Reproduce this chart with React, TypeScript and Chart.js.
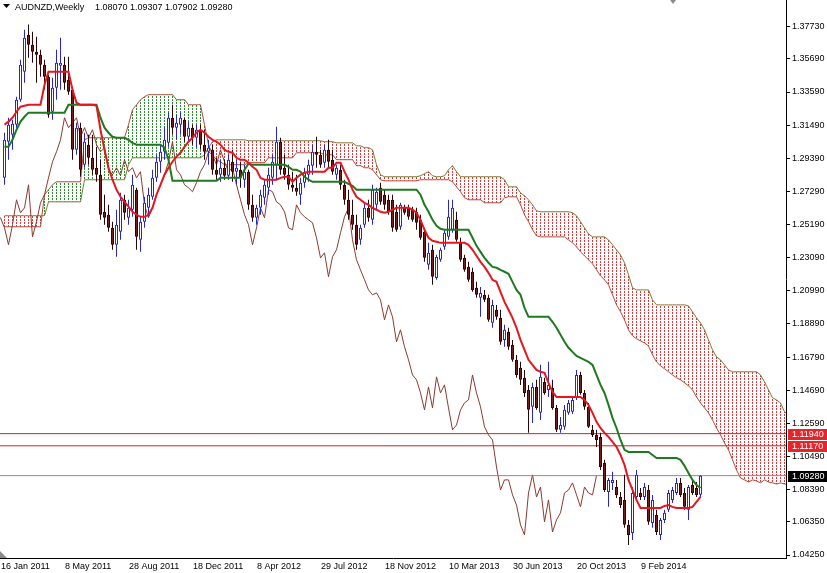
import React, { useEffect, useRef } from 'react';
import { Chart, registerables } from 'chart.js';

Chart.register(...registerables);

// ---------- labels / ticks ----------
const symbolName = 'AUDNZD,Weekly';
const xTickWeeks = [-0.875, 15.125, 31.125, 47.125, 63.125, 79.125, 95.125, 111.125, 127.125, 143.125, 159.125];
const xTickLabels = ['16 Jan 2011', '8 May 2011', '28 Aug 2011', '18 Dec 2011', '8 Apr 2012', '29 Jul 2012', '18 Nov 2012', '10 Mar 2013', '30 Jun 2013', '20 Oct 2013', '9 Feb 2014'];
const yTickValues = [1.3773, 1.3569, 1.3359, 1.3149, 1.2939, 1.2729, 1.2519, 1.2309, 1.2099, 1.1889, 1.1679, 1.1469, 1.1259, 1.1049, 1.0839, 1.0635, 1.0425];
const levelLines = [1.1194, 1.1117];
const currentPrice = 1.0928;
const chikouShift = 26;
const shiftMarkerWeek = 167;

// ---------- weekly candles ----------
const open = [
  1.2815, 1.3044, 1.3088, 1.3152, 1.3310, 1.3488, 1.3722, 1.3659, 1.3614, 1.3595,
  1.3532, 1.3456, 1.3234, 1.3386, 1.3526, 1.3532, 1.3437, 1.3373, 1.2993, 1.3133,
  1.2898, 1.3025, 1.2942, 1.2879, 1.2835, 1.2600, 1.2581, 1.2498, 1.2391, 1.2473,
  1.2676, 1.2562, 1.2613, 1.2740, 1.2422, 1.2537, 1.2625, 1.2695, 1.2815, 1.2917,
  1.2980, 1.3037, 1.3196, 1.3133, 1.3152, 1.3183, 1.3075, 1.3133, 1.3069, 1.3120,
  1.3025, 1.2980, 1.2993, 1.2866, 1.2835, 1.2879, 1.2828, 1.2917, 1.2854, 1.2866,
  1.2803, 1.2854, 1.2644, 1.2562, 1.2625, 1.2689, 1.2752, 1.2815, 1.2898, 1.3044,
  1.2879, 1.2835, 1.2771, 1.2752, 1.2708, 1.2784, 1.2835, 1.2892, 1.2980, 1.2961,
  1.2911, 1.2993, 1.2930, 1.2835, 1.2866, 1.2771, 1.2676, 1.2581, 1.2518, 1.2422,
  1.2518, 1.2625, 1.2549, 1.2644, 1.2752, 1.2708, 1.2676, 1.2676, 1.2600, 1.2505,
  1.2632, 1.2625, 1.2613, 1.2600, 1.2549, 1.2473, 1.2264, 1.2359, 1.2181, 1.2296,
  1.2378, 1.2441, 1.2486, 1.2549, 1.2403, 1.2308, 1.2251, 1.2220, 1.2118, 1.2055,
  1.2074, 1.2055, 1.1896, 1.1979, 1.1928, 1.1788, 1.1839, 1.1757, 1.1662, 1.1611,
  1.1548, 1.1471, 1.1364, 1.1490, 1.1326, 1.1522, 1.1471, 1.1484, 1.1357, 1.1218,
  1.1237, 1.1326, 1.1332, 1.1427, 1.1566, 1.1452, 1.1364, 1.1218, 1.1186, 1.1173,
  1.1009, 1.0825, 1.0882, 1.0856, 1.0793, 1.0774, 1.0616, 1.0565, 1.0793, 1.0818,
  1.0793, 1.0837, 1.0628, 1.0679, 1.0552, 1.0647, 1.0711, 1.0774, 1.0818, 1.0882,
  1.0818, 1.0711, 1.0869, 1.0850, 1.0807,
];
const high = [
  1.3101, 1.3196, 1.3183, 1.3329, 1.3564, 1.3754, 1.3786, 1.3741, 1.3709, 1.3627,
  1.3564, 1.3469, 1.3449, 1.3627, 1.3703, 1.3583, 1.3583, 1.3392, 1.3164, 1.3164,
  1.3101, 1.3088, 1.3088, 1.3012, 1.2930, 1.2708, 1.2644, 1.2537, 1.2613, 1.2720,
  1.2708, 1.2676, 1.2835, 1.2752, 1.2568, 1.2695, 1.2752, 1.2866, 1.2961, 1.3025,
  1.3139, 1.3228, 1.3278, 1.3215, 1.3234, 1.3196, 1.3171, 1.3152, 1.3152, 1.3152,
  1.3120, 1.3056, 1.3025, 1.2942, 1.2930, 1.2930, 1.2961, 1.2993, 1.2930, 1.2917,
  1.2898, 1.2866, 1.2708, 1.2644, 1.2740, 1.2803, 1.2879, 1.2961, 1.3139, 1.3069,
  1.2961, 1.2898, 1.2854, 1.2835, 1.2815, 1.2879, 1.2930, 1.3025, 1.3075, 1.2993,
  1.3025, 1.3056, 1.2993, 1.2898, 1.2898, 1.2803, 1.2740, 1.2676, 1.2581, 1.2518,
  1.2657, 1.2676, 1.2771, 1.2752, 1.2784, 1.2740, 1.2708, 1.2708, 1.2644, 1.2657,
  1.2644, 1.2644, 1.2632, 1.2625, 1.2581, 1.2498, 1.2403, 1.2391, 1.2327, 1.2372,
  1.2486, 1.2676, 1.2676, 1.2600, 1.2435, 1.2327, 1.2283, 1.2245, 1.2156, 1.2124,
  1.2105, 1.2074, 1.2042, 1.2010, 1.1979, 1.1884, 1.1865, 1.1788, 1.1693, 1.1649,
  1.1598, 1.1503, 1.1516, 1.1535, 1.1630, 1.1548, 1.1649, 1.1535, 1.1376, 1.1300,
  1.1376, 1.1408, 1.1421, 1.1598, 1.1586, 1.1471, 1.1389, 1.1249, 1.1218, 1.1199,
  1.1028, 1.0913, 1.0952, 1.0901, 1.0825, 1.0933, 1.0647, 1.0856, 1.0964, 1.0850,
  1.0882, 1.0869, 1.0806, 1.0711, 1.0660, 1.0711, 1.0837, 1.0856, 1.0913, 1.0913,
  1.0850, 1.0869, 1.0901, 1.0888, 1.09307,
];
const low = [
  1.2771, 1.2930, 1.2993, 1.3133, 1.3297, 1.3418, 1.3576, 1.3545, 1.3418, 1.3456,
  1.3373, 1.3196, 1.3183, 1.3310, 1.3373, 1.3373, 1.3342, 1.2930, 1.2961, 1.2822,
  1.2879, 1.2898, 1.2835, 1.2790, 1.2549, 1.2518, 1.2473, 1.2359, 1.2315, 1.2422,
  1.2549, 1.2518, 1.2568, 1.2359, 1.2346, 1.2498, 1.2568, 1.2676, 1.2790, 1.2847,
  1.2930, 1.3012, 1.3088, 1.3056, 1.3088, 1.3044, 1.3044, 1.3025, 1.3006, 1.2993,
  1.2930, 1.2898, 1.2835, 1.2803, 1.2790, 1.2803, 1.2803, 1.2790, 1.2771, 1.2752,
  1.2752, 1.2613, 1.2537, 1.2518, 1.2581, 1.2644, 1.2708, 1.2771, 1.2803, 1.2835,
  1.2803, 1.2740, 1.2727, 1.2701, 1.2644, 1.2752, 1.2790, 1.2835, 1.2879, 1.2879,
  1.2879, 1.2879, 1.2835, 1.2803, 1.2740, 1.2644, 1.2549, 1.2486, 1.2359, 1.2391,
  1.2498, 1.2537, 1.2518, 1.2613, 1.2644, 1.2613, 1.2581, 1.2473, 1.2473, 1.2486,
  1.2581, 1.2549, 1.2537, 1.2486, 1.2422, 1.2283, 1.2232, 1.2137, 1.2169, 1.2283,
  1.2359, 1.2422, 1.2467, 1.2410, 1.2283, 1.2220, 1.2156, 1.2093, 1.2055, 1.1934,
  1.2029, 1.1903, 1.1865, 1.1915, 1.1757, 1.1744, 1.1725, 1.1649, 1.1548, 1.1503,
  1.1427, 1.1199, 1.1262, 1.1345, 1.1281, 1.1440, 1.1427, 1.1345, 1.1205, 1.1199,
  1.1218, 1.1313, 1.1319, 1.1408, 1.1440, 1.1345, 1.1230, 1.1173, 1.1110, 1.0964,
  1.0825, 1.0730, 1.0837, 1.0787, 1.0723, 1.0597, 1.0489, 1.0520, 1.0774, 1.0774,
  1.0774, 1.0616, 1.0597, 1.0552, 1.0520, 1.0628, 1.0698, 1.0755, 1.0806, 1.0793,
  1.0711, 1.0647, 1.0806, 1.0793, 1.07902,
];
const close = [
  1.3056, 1.3152, 1.3158, 1.3310, 1.3532, 1.3703, 1.3659, 1.3614, 1.3595, 1.3532,
  1.3456, 1.3215, 1.3386, 1.3545, 1.3545, 1.3418, 1.3361, 1.2993, 1.3133, 1.2866,
  1.3044, 1.2942, 1.2866, 1.2835, 1.2581, 1.2562, 1.2498, 1.2391, 1.2518, 1.2676,
  1.2594, 1.2625, 1.2771, 1.2441, 1.2537, 1.2657, 1.2708, 1.2815, 1.2917, 1.2980,
  1.3056, 1.3196, 1.3133, 1.3164, 1.3196, 1.3075, 1.3133, 1.3069, 1.3120, 1.3025,
  1.2980, 1.3006, 1.2866, 1.2835, 1.2879, 1.2828, 1.2930, 1.2854, 1.2879, 1.2815,
  1.2854, 1.2644, 1.2562, 1.2625, 1.2708, 1.2771, 1.2835, 1.2917, 1.3044, 1.2866,
  1.2835, 1.2771, 1.2752, 1.2727, 1.2784, 1.2854, 1.2898, 1.2980, 1.2961, 1.2898,
  1.2993, 1.2917, 1.2854, 1.2879, 1.2771, 1.2676, 1.2581, 1.2518, 1.2391, 1.2498,
  1.2625, 1.2562, 1.2740, 1.2727, 1.2663, 1.2644, 1.2600, 1.2498, 1.2486, 1.2644,
  1.2594, 1.2568, 1.2549, 1.2530, 1.2435, 1.2308, 1.2340, 1.2188, 1.2315, 1.2359,
  1.2467, 1.2568, 1.2625, 1.2422, 1.2296, 1.2232, 1.2169, 1.2105, 1.2074, 1.2086,
  1.2042, 1.1915, 1.2010, 1.1934, 1.1776, 1.1852, 1.1744, 1.1662, 1.1566, 1.1535,
  1.1452, 1.1345, 1.1490, 1.1357, 1.1554, 1.1452, 1.1503, 1.1357, 1.1218, 1.1249,
  1.1345, 1.1389, 1.1408, 1.1566, 1.1452, 1.1364, 1.1237, 1.1186, 1.1154, 1.0983,
  1.0837, 1.0901, 1.0901, 1.0806, 1.0742, 1.0616, 1.0552, 1.0818, 1.0933, 1.0793,
  1.0856, 1.0635, 1.0774, 1.0571, 1.0647, 1.0692, 1.0818, 1.0837, 1.0882, 1.0806,
  1.0730, 1.0856, 1.0818, 1.0806, 1.0928,
];

// ---------- Ichimoku lines ----------
const tenkan = [
  1.3152, 1.3171, 1.3196, 1.3234, 1.3266, 1.3272, 1.3278, 1.3278, 1.3278, 1.3278,
  1.3405, 1.3488, 1.3488, 1.3488, 1.3488, 1.3488, 1.3488, 1.3373, 1.3291, 1.3278,
  1.3278, 1.3278, 1.3278, 1.3272, 1.3120, 1.2993, 1.2879, 1.2803, 1.2740, 1.2695,
  1.2663, 1.2632, 1.2600, 1.2581, 1.2568, 1.2568, 1.2581, 1.2625, 1.2708, 1.2771,
  1.2835, 1.2879, 1.2917, 1.2949, 1.2974, 1.3012, 1.3044, 1.3069, 1.3101, 1.3120,
  1.3101, 1.3075, 1.3056, 1.3044, 1.3025, 1.2993, 1.2980, 1.2974, 1.2942, 1.2930,
  1.2930, 1.2911, 1.2885, 1.2866, 1.2815, 1.2803, 1.2803, 1.2803, 1.2803, 1.2815,
  1.2822, 1.2822, 1.2790, 1.2815, 1.2835, 1.2847, 1.2854, 1.2854, 1.2854, 1.2854,
  1.2854, 1.2879, 1.2879, 1.2911, 1.2911, 1.2854, 1.2803, 1.2740, 1.2695, 1.2676,
  1.2657, 1.2644, 1.2625, 1.2613, 1.2600, 1.2594, 1.2600, 1.2613, 1.2625, 1.2625,
  1.2625, 1.2625, 1.2613, 1.2594, 1.2549, 1.2486, 1.2435, 1.2416, 1.2410, 1.2403,
  1.2403, 1.2403, 1.2403, 1.2403, 1.2403, 1.2403, 1.2391, 1.2359, 1.2321, 1.2283,
  1.2251, 1.2213, 1.2169, 1.2156, 1.2093, 1.2029, 1.1979, 1.1928, 1.1865, 1.1788,
  1.1725, 1.1662, 1.1630, 1.1598, 1.1586, 1.1579, 1.1516, 1.1459, 1.1427, 1.1427,
  1.1427, 1.1427, 1.1427, 1.1427, 1.1427, 1.1408, 1.1376, 1.1326, 1.1269, 1.1230,
  1.1199, 1.1173, 1.1142, 1.1110, 1.1059, 1.0996, 1.0901, 1.0837, 1.0774, 1.0723,
  1.0723, 1.0723, 1.0723, 1.0723, 1.0723, 1.0736, 1.0742, 1.0730, 1.0723, 1.0723,
  1.0723, 1.0723, 1.0730, 1.0761, 1.0793,
];
const kijun = [
  1.3012, 1.3012, 1.3056, 1.3120, 1.3171, 1.3202, 1.3228, 1.3228, 1.3228, 1.3228,
  1.3228, 1.3228, 1.3228, 1.3228, 1.3228, 1.3228, 1.3278, 1.3278, 1.3278, 1.3278,
  1.3278, 1.3278, 1.3278, 1.3278, 1.3196, 1.3133, 1.3101, 1.3075, 1.3069, 1.3069,
  1.3069, 1.3056, 1.3037, 1.3025, 1.3025, 1.3025, 1.3025, 1.3025, 1.3025, 1.3025,
  1.3006, 1.2930, 1.2796, 1.2796, 1.2796, 1.2796, 1.2796, 1.2796, 1.2796, 1.2796,
  1.2796, 1.2796, 1.2796, 1.2796, 1.2815, 1.2815, 1.2815, 1.2815, 1.2815, 1.2815,
  1.2866, 1.2904, 1.2898, 1.2898, 1.2898, 1.2898, 1.2898, 1.2898, 1.2898, 1.2898,
  1.2898, 1.2885, 1.2866, 1.2866, 1.2854, 1.2822, 1.2803, 1.2790, 1.2790, 1.2790,
  1.2790, 1.2790, 1.2790, 1.2790, 1.2790, 1.2790, 1.2777, 1.2765, 1.2740, 1.2740,
  1.2740, 1.2740, 1.2740, 1.2740, 1.2740, 1.2740, 1.2740, 1.2740, 1.2740, 1.2740,
  1.2740, 1.2740, 1.2740, 1.2740, 1.2708, 1.2644, 1.2600, 1.2549, 1.2511, 1.2492,
  1.2486, 1.2486, 1.2486, 1.2486, 1.2486, 1.2486, 1.2486, 1.2435, 1.2384, 1.2346,
  1.2308, 1.2277, 1.2251, 1.2245, 1.2232, 1.2220, 1.2207, 1.2156, 1.2105, 1.2074,
  1.1991, 1.1934, 1.1934, 1.1934, 1.1934, 1.1934, 1.1934, 1.1903, 1.1865, 1.1820,
  1.1776, 1.1738, 1.1712, 1.1687, 1.1674, 1.1662, 1.1649, 1.1630, 1.1566, 1.1503,
  1.1452, 1.1376, 1.1294, 1.1230, 1.1154, 1.1091, 1.1078, 1.1078, 1.1078, 1.1078,
  1.1078, 1.1078, 1.1059, 1.1040, 1.1040, 1.1040, 1.1040, 1.1040, 1.1040, 1.1028,
  1.0990, 1.0945, 1.0901, 1.0869, 1.0850,
];
// Senkou spans as plotted (already shifted 26 weeks forward)
const spanA = [
  1.2505, 1.2505, 1.2505, 1.2505, 1.2505, 1.2505, 1.2505, 1.2505, 1.2505, 1.2505,
  1.2708, 1.2740, 1.2771, 1.2790, 1.2790, 1.2790, 1.2790, 1.2790, 1.2790, 1.2790,
  1.3056, 1.3069, 1.3069, 1.3069, 1.3069, 1.3069, 1.3069, 1.3069, 1.3069, 1.3069,
  1.3069, 1.3152, 1.3247, 1.3278, 1.3310, 1.3329, 1.3342, 1.3342, 1.3342, 1.3342,
  1.3342, 1.3342, 1.3342, 1.3310, 1.3310, 1.3310, 1.3278, 1.3278, 1.3278, 1.3278,
  1.3152, 1.3025, 1.2961, 1.2930, 1.2917, 1.2898, 1.2898, 1.2898, 1.2898, 1.2898,
  1.2898, 1.2911, 1.2911, 1.2911, 1.2911, 1.2911, 1.2942, 1.2942, 1.2942, 1.2942,
  1.2942, 1.2942, 1.2942, 1.2974, 1.2974, 1.2974, 1.2974, 1.2974, 1.2974, 1.2974,
  1.2961, 1.2961, 1.2961, 1.2930, 1.2930, 1.2930, 1.2930, 1.2930, 1.2892, 1.2892,
  1.2879, 1.2879, 1.2866, 1.2835, 1.2803, 1.2796, 1.2796, 1.2796, 1.2796, 1.2796,
  1.2796, 1.2796, 1.2796, 1.2796, 1.2803, 1.2803, 1.2803, 1.2803, 1.2803, 1.2803,
  1.2803, 1.2803, 1.2790, 1.2758, 1.2727, 1.2689, 1.2676, 1.2676, 1.2676, 1.2676,
  1.2657, 1.2657, 1.2657, 1.2657, 1.2657, 1.2689, 1.2695, 1.2695, 1.2695, 1.2644,
  1.2581, 1.2537, 1.2486, 1.2448, 1.2441, 1.2441, 1.2441, 1.2441, 1.2441, 1.2441,
  1.2441, 1.2422, 1.2403, 1.2378, 1.2346, 1.2321, 1.2296, 1.2270, 1.2232, 1.2194,
  1.2169, 1.2137, 1.2074, 1.2010, 1.1966, 1.1915, 1.1852, 1.1814, 1.1795, 1.1782,
  1.1769, 1.1750, 1.1693, 1.1649, 1.1624, 1.1605, 1.1586, 1.1566, 1.1548, 1.1535,
  1.1516, 1.1497, 1.1471, 1.1427, 1.1389, 1.1357, 1.1326, 1.1281, 1.1230, 1.1186,
  1.1135, 1.1091, 1.1028, 1.0964, 1.0913, 1.0901, 1.0888, 1.0901, 1.0894, 1.0882,
  1.0901, 1.0888, 1.0882, 1.0875, 1.0882, 1.0875, 1.0869,
];
const spanB = [
  1.2575, 1.2575, 1.2575, 1.2575, 1.2575, 1.2575, 1.2575, 1.2575, 1.2575, 1.2575,
  1.2575, 1.2663, 1.2663, 1.2663, 1.2663, 1.2663, 1.2663, 1.2663, 1.2663, 1.2663,
  1.2803, 1.2803, 1.2803, 1.2803, 1.2803, 1.2803, 1.2803, 1.2803, 1.2803, 1.2803,
  1.2803, 1.2898, 1.2942, 1.2942, 1.2942, 1.2942, 1.2942, 1.2942, 1.2942, 1.2942,
  1.2942, 1.2942, 1.2942, 1.2942, 1.2942, 1.2942, 1.2942, 1.2942, 1.2942, 1.2942,
  1.2961, 1.3006, 1.3044, 1.3056, 1.3056, 1.3056, 1.3056, 1.3056, 1.3056, 1.3056,
  1.3056, 1.3050, 1.3050, 1.3050, 1.3050, 1.3050, 1.3050, 1.3050, 1.3050, 1.3050,
  1.3050, 1.3050, 1.3050, 1.3050, 1.3050, 1.3050, 1.3050, 1.3050, 1.3050, 1.3050,
  1.3044, 1.3044, 1.3044, 1.3037, 1.3037, 1.3037, 1.3037, 1.3037, 1.3018, 1.3018,
  1.3006, 1.3006, 1.2993, 1.2898, 1.2835, 1.2822, 1.2822, 1.2822, 1.2822, 1.2822,
  1.2822, 1.2822, 1.2822, 1.2822, 1.2828, 1.2841, 1.2854, 1.2828, 1.2822, 1.2822,
  1.2828, 1.2866, 1.2892, 1.2854, 1.2822, 1.2822, 1.2822, 1.2822, 1.2822, 1.2822,
  1.2822, 1.2822, 1.2822, 1.2822, 1.2822, 1.2803, 1.2758, 1.2758, 1.2758, 1.2720,
  1.2701, 1.2676, 1.2644, 1.2606, 1.2600, 1.2600, 1.2600, 1.2600, 1.2600, 1.2600,
  1.2600, 1.2600, 1.2594, 1.2575, 1.2537, 1.2498, 1.2460, 1.2441, 1.2441, 1.2441,
  1.2441, 1.2422, 1.2391, 1.2359, 1.2327, 1.2277, 1.2201, 1.2118, 1.2105, 1.2105,
  1.2105, 1.2105, 1.2042, 1.2010, 1.2010, 1.2010, 1.2010, 1.2010, 1.2010, 1.2010,
  1.2010, 1.2004, 1.1966, 1.1928, 1.1896, 1.1852, 1.1788, 1.1725, 1.1681, 1.1662,
  1.1630, 1.1598, 1.1586, 1.1586, 1.1586, 1.1586, 1.1586, 1.1586, 1.1586, 1.1566,
  1.1522, 1.1471, 1.1421, 1.1408, 1.1389, 1.1332, 1.1313,
];

// ---------- layout / style constants ----------
const W = 827;
const H = 573;
const X_MIN = -1.125;
const X_MAX = 195.375;
const Y_MIN = 1.0406;
const Y_MAX = 1.3942;
const FONT = '"Liberation Sans", Arial, Helvetica, sans-serif';
const BULL = '#2626cc';
const BEAR_BODY = '#731f1f';
const BEAR_EDGE = '#2a0707';

const overlayPlugin = {
  id: 'mt4Overlay',
  afterDraw(chart: any) {
    const ctx = chart.ctx;
    const ys = chart.scales.y;
    const xs = chart.scales.x;
    ctx.save();
    ctx.font = `9px ${FONT}`;
    // price tags on the axis
    const tags = [
      ...levelLines.map((v) => ({ v, bg: '#e3262b' })),
      { v: currentPrice, bg: '#000000' },
    ];
    tags.forEach((t) => {
      const py = Math.round(ys.getPixelForValue(t.v));
      ctx.fillStyle = t.bg;
      ctx.fillRect(788, py - 5, W - 788, 11);
      ctx.fillStyle = '#ffffff';
      ctx.textAlign = 'left';
      ctx.textBaseline = 'middle';
      ctx.fillText(t.v.toFixed(5), 792, py + 0.5);
    });
    // title
    ctx.fillStyle = '#000000';
    ctx.beginPath();
    ctx.moveTo(3, 4);
    ctx.lineTo(10, 4);
    ctx.lineTo(6.5, 8);
    ctx.closePath();
    ctx.fill();
    ctx.textAlign = 'left';
    ctx.textBaseline = 'alphabetic';
    const last = close.length - 1;
    ctx.fillText(symbolName, 15, 10);
    const ohlc = [open[last], high[last], low[last], close[last]];
    ohlc.forEach((v, k) => ctx.fillText(v.toFixed(5), 95 + 35 * k, 10));
    // MT4 markers (corner + chart-shift)
    ctx.fillStyle = '#8c8c8c';
    ctx.beginPath();
    ctx.moveTo(0, 551);
    ctx.lineTo(0, 558);
    ctx.lineTo(7, 558);
    ctx.closePath();
    ctx.fill();
    const sx = Math.round(xs.getPixelForValue(shiftMarkerWeek));
    ctx.beginPath();
    ctx.moveTo(sx - 3, 0);
    ctx.lineTo(sx + 3, 0);
    ctx.lineTo(sx, 4);
    ctx.closePath();
    ctx.fill();
    ctx.restore();
  },
};

export default function App() {
  const ref = useRef<HTMLCanvasElement>(null);

  useEffect(() => {
    const canvas = ref.current;
    if (!canvas) return;
    const c2d = canvas.getContext('2d');
    const makeDots = (color: string) => {
      const pc = document.createElement('canvas');
      pc.width = 1;
      pc.height = 3;
      const g = pc.getContext('2d')!;
      g.fillStyle = color;
      g.fillRect(0, 0, 1, 2);
      return c2d!.createPattern(pc, 'repeat');
    };
    const greenDots = makeDots('#2f8a2f');
    const redDots = makeDots('#d23c3c');

    const idx = close.map((_, i) => i);
    const cIdx = spanA.map((_, j) => j);
    const bull = (i: number) => close[i] >= open[i];

    const datasets: any[] = [
      {
        type: 'bar',
        label: 'Kumo',
        data: cIdx.map((j) => ({ x: j, y: [spanA[j], spanB[j]] })),
        backgroundColor: (c: any) => (spanA[c.dataIndex] >= spanB[c.dataIndex] ? greenDots : redDots),
        borderWidth: 0,
        barThickness: 1,
        grouped: false,
        inflateAmount: 0,
        order: 20,
      },
      {
        type: 'line',
        label: 'Senkou Span A',
        data: cIdx.map((j) => ({ x: j, y: spanA[j] })),
        borderColor: '#b04a3a',
        borderWidth: 1,
        pointRadius: 0,
        order: 19,
      },
      {
        type: 'line',
        label: 'Senkou Span B',
        data: cIdx.map((j) => ({ x: j, y: spanB[j] })),
        borderColor: '#7a7a34',
        borderWidth: 1,
        pointRadius: 0,
        order: 19,
      },
      {
        type: 'line',
        label: 'Chikou Span',
        data: idx.map((i) => ({ x: i - chikouShift, y: close[i] })),
        borderColor: '#8b3a2e',
        borderWidth: 1,
        pointRadius: 0,
        order: 18,
      },
      ...levelLines.map((v) => ({
        type: 'line',
        label: 'level ' + v,
        data: [{ x: X_MIN, y: v }, { x: X_MAX, y: v }],
        borderColor: '#c4262b',
        borderWidth: 1,
        pointRadius: 0,
        order: 17,
      })),
      {
        type: 'line',
        label: 'bid',
        data: [{ x: X_MIN, y: currentPrice }, { x: X_MAX, y: currentPrice }],
        borderColor: '#8c8c8c',
        borderWidth: 1,
        pointRadius: 0,
        order: 17,
      },
      {
        type: 'bar',
        label: 'wick',
        data: idx.map((i) => ({ x: i, y: [low[i], high[i]] })),
        backgroundColor: (c: any) => (bull(c.dataIndex) ? BULL : BEAR_EDGE),
        borderWidth: 0,
        barThickness: 1,
        grouped: false,
        inflateAmount: 0,
        order: 10,
      },
      {
        type: 'bar',
        label: 'body',
        data: idx.map((i) => ({ x: i, y: [open[i], close[i]] })),
        backgroundColor: (c: any) => (bull(c.dataIndex) ? '#ffffff' : BEAR_BODY),
        borderColor: (c: any) => (bull(c.dataIndex) ? BULL : BEAR_EDGE),
        borderWidth: 1,
        borderSkipped: false,
        barThickness: 3,
        minBarLength: 1,
        grouped: false,
        inflateAmount: 0,
        order: 9,
      },
      {
        type: 'line',
        label: 'Kijun-sen',
        data: idx.map((i) => ({ x: i, y: kijun[i] })),
        borderColor: '#1e7a1e',
        borderWidth: 2,
        pointRadius: 0,
        order: 3,
      },
      {
        type: 'line',
        label: 'Tenkan-sen',
        data: idx.map((i) => ({ x: i, y: tenkan[i] })),
        borderColor: '#e5161e',
        borderWidth: 2,
        pointRadius: 0,
        order: 2,
      },
    ];

    const chart = new Chart(canvas, {
      type: 'bar',
      data: { datasets },
      options: {
        responsive: false,
        animation: false,
        devicePixelRatio: 1,
        events: [],
        layout: { padding: 0, autoPadding: false },
        plugins: {
          legend: { display: false },
          tooltip: { enabled: false },
          title: { display: false },
        },
        scales: {
          x: {
            type: 'linear',
            position: 'bottom',
            min: X_MIN,
            max: X_MAX,
            offset: false,
            grid: { display: true, drawOnChartArea: false, drawTicks: false, offset: false },
            border: { display: true, color: '#000000', width: 1 },
            ticks: {
              autoSkip: false,
              maxRotation: 0,
              minRotation: 0,
              align: 'start',
              padding: 3,
              color: '#000000',
              font: { family: FONT, size: 9 },
              callback: (_v: any, i: number) => xTickLabels[i] ?? '',
            },
            afterBuildTicks: (s: any) => {
              s.ticks = xTickWeeks.map((v) => ({ value: v }));
            },
            afterFit: (s: any) => {
              s.height = 15;
              s.paddingLeft = 0;
              s.paddingRight = 0;
            },
          },
          y: {
            type: 'linear',
            position: 'right',
            min: Y_MIN,
            max: Y_MAX,
            beginAtZero: false,
            grid: { display: true, drawOnChartArea: false, drawTicks: true, tickLength: 4, color: '#000000' },
            border: { display: true, color: '#000000', width: 1 },
            ticks: {
              padding: 2,
              color: '#000000',
              font: { family: FONT, size: 9 },
              callback: (v: any) => Number(v).toFixed(5),
            },
            afterBuildTicks: (s: any) => {
              s.ticks = yTickValues.map((v) => ({ value: v }));
            },
            afterFit: (s: any) => {
              s.width = 41;
              s.paddingTop = 0;
              s.paddingBottom = 0;
            },
          },
        },
      } as any,
      plugins: [overlayPlugin],
    } as any);

    return () => chart.destroy();
  }, []);

  return (
    <div style={{ position: 'absolute', left: 0, top: 0, width: W, height: H, background: '#ffffff' }}>
      <canvas ref={ref} width={W} height={H} style={{ display: 'block' }} />
    </div>
  );
}
